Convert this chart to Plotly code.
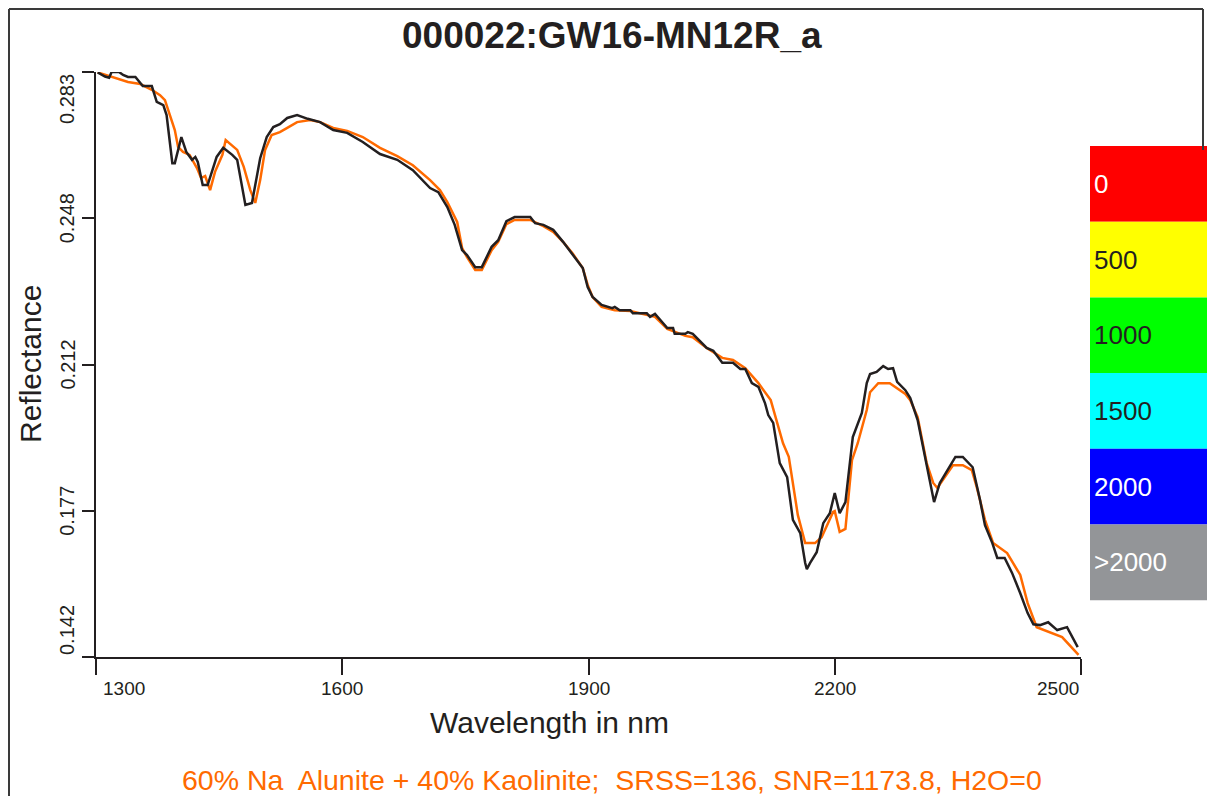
import plotly.graph_objects as go

# ---------------- data ----------------
measured_nm = [1302, 1311, 1316, 1319, 1328, 1333, 1339, 1348, 1357, 1368, 1374, 1382, 1386, 1393, 1396,
               1404, 1410, 1417, 1421, 1424, 1430, 1436, 1447, 1455, 1466, 1472, 1482, 1490, 1500, 1508,
               1516, 1524, 1533, 1545, 1558, 1573, 1589, 1606, 1625, 1646, 1667, 1686, 1707, 1717, 1728,
               1737, 1746, 1752, 1762, 1770, 1782, 1790, 1800, 1810, 1829, 1835, 1845, 1857, 1869, 1881,
               1893, 1899, 1905, 1916, 1929, 1932, 1938, 1951, 1954, 1971, 1975, 1981, 1996, 2003, 2005,
               2018, 2021, 2027, 2044, 2052, 2063, 2076, 2085, 2091, 2099, 2107, 2115, 2119, 2125, 2133,
               2142, 2149, 2158, 2164, 2166, 2170, 2178, 2186, 2194, 2200, 2206, 2213, 2222, 2233, 2239,
               2243, 2251, 2259, 2265, 2271, 2276, 2286, 2292, 2301, 2310, 2316, 2321, 2328, 2337, 2347,
               2356, 2368, 2377, 2383, 2392, 2398, 2407, 2416, 2426, 2435, 2442, 2450, 2460, 2471, 2483,
               2489, 2496]
measured_refl = [0.2829, 0.2819, 0.2816, 0.2830, 0.2830, 0.2823, 0.2818, 0.2818, 0.2796, 0.2796, 0.2758,
                 0.2750, 0.2726, 0.2610, 0.2610, 0.2673, 0.2637, 0.2618, 0.2625, 0.2613, 0.2557, 0.2557,
                 0.2625, 0.2647, 0.2630, 0.2618, 0.2509, 0.2514, 0.2622, 0.2673, 0.2697, 0.2704, 0.2719,
                 0.2726, 0.2717, 0.2709, 0.2690, 0.2683, 0.2661, 0.2632, 0.2618, 0.2593, 0.2550, 0.2540,
                 0.2504, 0.2461, 0.2400, 0.2388, 0.2359, 0.2359, 0.2408, 0.2424, 0.2470, 0.2480, 0.2480,
                 0.2465, 0.2461, 0.2449, 0.2420, 0.2388, 0.2357, 0.2311, 0.2287, 0.2268, 0.2260, 0.2263,
                 0.2255, 0.2255, 0.2248, 0.2248, 0.2239, 0.2246, 0.2212, 0.2212, 0.2198, 0.2198, 0.2202,
                 0.2198, 0.2164, 0.2157, 0.2128, 0.2128, 0.2113, 0.2113, 0.2079, 0.2070, 0.2031, 0.2002,
                 0.1983, 0.1886, 0.1852, 0.1749, 0.1717, 0.1645, 0.1630, 0.1645, 0.1671, 0.1741, 0.1765,
                 0.1814, 0.1765, 0.1792, 0.1949, 0.2007, 0.2079, 0.2101, 0.2106, 0.2120, 0.2113, 0.2115,
                 0.2082, 0.2062, 0.2043, 0.1990, 0.1901, 0.1845, 0.1792, 0.1838, 0.1869, 0.1901, 0.1901,
                 0.1876, 0.1797, 0.1736, 0.1693, 0.1657, 0.1657, 0.1621, 0.1572, 0.1524, 0.1497, 0.1495,
                 0.1502, 0.1483, 0.1490, 0.1466, 0.1442]

fit_nm = [1302, 1317, 1329, 1339, 1354, 1368, 1378, 1384, 1390, 1396, 1400, 1406, 1414, 1423, 1428,
          1433, 1439, 1445, 1454, 1458, 1472, 1480, 1488, 1494, 1500, 1506, 1514, 1524, 1533, 1545,
          1561, 1573, 1589, 1606, 1625, 1646, 1667, 1686, 1707, 1719, 1728, 1740, 1746, 1752, 1762,
          1770, 1782, 1790, 1800, 1810, 1829, 1845, 1857, 1869, 1881, 1893, 1899, 1905, 1916, 1932,
          1951, 1971, 1981, 1996, 2018, 2027, 2044, 2063, 2076, 2091, 2107, 2122, 2137, 2144, 2155,
          2164, 2176, 2184, 2198, 2200, 2206, 2213, 2221, 2228, 2239, 2243, 2253, 2267, 2276, 2286,
          2292, 2301, 2312, 2320, 2325, 2338, 2344, 2356, 2367, 2373, 2383, 2393, 2401, 2410, 2426,
          2435, 2446, 2462, 2477, 2497]
fit_refl = [0.2829, 0.2820, 0.2811, 0.2806, 0.2801, 0.2787, 0.2774, 0.2762, 0.2726, 0.2690, 0.2649,
            0.2637, 0.2630, 0.2598, 0.2574, 0.2579, 0.2545, 0.2589, 0.2630, 0.2666, 0.2642, 0.2601,
            0.2545, 0.2514, 0.2569, 0.2642, 0.2678, 0.2685, 0.2695, 0.2709, 0.2714, 0.2709, 0.2695,
            0.2688, 0.2673, 0.2647, 0.2627, 0.2605, 0.2569, 0.2545, 0.2516, 0.2468, 0.2405, 0.2383,
            0.2352, 0.2352, 0.2400, 0.2420, 0.2463, 0.2473, 0.2473, 0.2458, 0.2444, 0.2420, 0.2391,
            0.2357, 0.2316, 0.2287, 0.2263, 0.2255, 0.2253, 0.2243, 0.2239, 0.2210, 0.2193, 0.2190,
            0.2164, 0.2140, 0.2135, 0.2115, 0.2079, 0.2038, 0.1934, 0.1901, 0.1761, 0.1693, 0.1693,
            0.1707, 0.1768, 0.1770, 0.1720, 0.1727, 0.1893, 0.1934, 0.2014, 0.2057, 0.2079, 0.2079,
            0.2067, 0.2053, 0.2038, 0.1997, 0.1886, 0.1838, 0.1826, 0.1864, 0.1881, 0.1881, 0.1869,
            0.1828, 0.1749, 0.1693, 0.1681, 0.1669, 0.1616, 0.1548, 0.1490, 0.1478, 0.1466, 0.1423]

x_ticks = [1300, 1600, 1900, 2200, 2500]
y_ticks = [0.1418, 0.1771, 0.2124, 0.2477, 0.2830]
y_tick_text = ["0.142", "0.177", "0.212", "0.248", "0.283"]

legend_labels = ["0", "500", "1000", "1500", "2000", ">2000"]
legend_colors = ["#FF0000", "#FFFF00", "#00FF00", "#00FFFF", "#0000FF", "#939598"]
legend_text_colors = ["#FFFFFF", "#231F20", "#231F20", "#231F20", "#FFFFFF", "#FFFFFF"]

title_text = "000022:GW16-MN12R_a"
fit_text = "60% Na  Alunite + 40% Kaolinite;  SRSS=136, SNR=1173.8, H2O=0"

# ---------------- layout geometry ----------------
# page body has an 8px margin; positions below are given in window pixels
OFF = 8
WIN_W, WIN_H = 1215, 796
W, H = WIN_W - OFF, WIN_H - OFF
PLOT_X0, PLOT_X1, PLOT_Y0, PLOT_Y1 = 96, 1081, 72, 657   # window pixels
L = PLOT_X0 - OFF
T = PLOT_Y0 - OFF
R = W - (PLOT_X1 - OFF)
B = H - (PLOT_Y1 - OFF)
PW, PH = W - L - R, H - T - B
FONT = "Liberation Sans, Arial, Helvetica, sans-serif"
ORANGE = "#FF6A00"
DARK = "#231F20"


def px_x(px):
    return (px - PLOT_X0) / PW


def px_y(py):
    return (PLOT_Y1 - py) / PH


fig = go.Figure()
fig.add_trace(go.Scatter(x=fit_nm, y=fit_refl, mode="lines",
                         line=dict(color=ORANGE, width=2.5), name="fit"))
fig.add_trace(go.Scatter(x=measured_nm, y=measured_refl, mode="lines",
                         line=dict(color=DARK, width=2.5), name="measured"))

shapes = []
annotations = []

# frame lines
frame_col = "#3a3a3a"
shapes.append(dict(type="line", xref="paper", yref="paper", x0=px_x(9), x1=px_x(9),
                   y0=px_y(9), y1=px_y(800), line=dict(color=frame_col, width=2)))
shapes.append(dict(type="line", xref="paper", yref="paper", x0=px_x(9), x1=px_x(1203),
                   y0=px_y(9), y1=px_y(9), line=dict(color=frame_col, width=2)))
shapes.append(dict(type="line", xref="paper", yref="paper", x0=px_x(1203), x1=px_x(1203),
                   y0=px_y(9), y1=px_y(150), line=dict(color=frame_col, width=2)))

# legend colour blocks
blk_top, blk_h, blk_x0, blk_x1 = 146, 75.7, 1090, 1220
for i, (lab, col, tcol) in enumerate(zip(legend_labels, legend_colors, legend_text_colors)):
    y0 = blk_top + i * blk_h
    y1 = y0 + blk_h
    shapes.append(dict(type="rect", xref="paper", yref="paper", x0=px_x(blk_x0), x1=px_x(blk_x1),
                       y0=px_y(y1), y1=px_y(y0), fillcolor=col, line=dict(width=0), layer="below"))
    annotations.append(dict(text=lab, xref="paper", yref="paper", x=px_x(blk_x0 + 2),
                            y=px_y((y0 + y1) / 2), xanchor="left", yanchor="middle",
                            showarrow=False, font=dict(family=FONT, size=26, color=tcol)))

# x tick labels
for i, v in enumerate(x_ticks):
    anchor = "left" if i == 0 else ("right" if i == len(x_ticks) - 1 else "center")
    annotations.append(dict(text=str(v), x=v, xref="x", y=0, yref="paper", yshift=-31,
                            xshift=(5 if i == 0 else 0),
                            xanchor=anchor, yanchor="middle", showarrow=False,
                            font=dict(family=FONT, size=19, color=DARK)))
# y tick labels
for i, (v, t) in enumerate(zip(y_ticks, y_tick_text)):
    anchor = "bottom" if i == 0 else ("top" if i == len(y_ticks) - 1 else "middle")
    annotations.append(dict(text=t, x=0, xref="paper", y=v, yref="y", xshift=-29,
                            xanchor="center", yanchor=anchor, showarrow=False, textangle=-90,
                            font=dict(family=FONT, size=20, color=DARK)))

# titles
annotations.append(dict(text="<b>" + title_text + "</b>", xref="paper", yref="paper",
                        x=px_x(612), y=px_y(35), xanchor="center", yanchor="middle",
                        showarrow=False, font=dict(family=FONT, size=37, color=DARK)))
annotations.append(dict(text="Wavelength in nm", xref="paper", yref="paper",
                        x=px_x(549), y=px_y(722), xanchor="center", yanchor="middle",
                        showarrow=False, font=dict(family=FONT, size=30, color=DARK)))
annotations.append(dict(text="Reflectance", xref="paper", yref="paper",
                        x=px_x(30), y=px_y(364), xanchor="center", yanchor="middle",
                        textangle=-90, showarrow=False, font=dict(family=FONT, size=30, color=DARK)))
annotations.append(dict(text=fit_text, xref="paper", yref="paper",
                        x=px_x(612), y=px_y(780), xanchor="center", yanchor="middle",
                        showarrow=False, font=dict(family=FONT, size=28.5, color=ORANGE)))

fig.update_layout(
    width=W, height=H,
    margin=dict(l=L, r=R, t=T, b=B, autoexpand=False),
    paper_bgcolor="white", plot_bgcolor="white",
    showlegend=False,
    shapes=shapes, annotations=annotations,
    xaxis=dict(range=[1300, 2500], tickvals=x_ticks, showticklabels=False,
               ticks="outside", ticklen=16, tickwidth=2, tickcolor=DARK,
               showline=True, linecolor=DARK, linewidth=2, showgrid=False, zeroline=False),
    yaxis=dict(range=[y_ticks[0], y_ticks[-1]], tickvals=y_ticks, showticklabels=False,
               ticks="outside", ticklen=12, tickwidth=2, tickcolor=DARK,
               showline=True, linecolor=DARK, linewidth=2, showgrid=False, zeroline=False),
)

fig.write_html("out.html")
